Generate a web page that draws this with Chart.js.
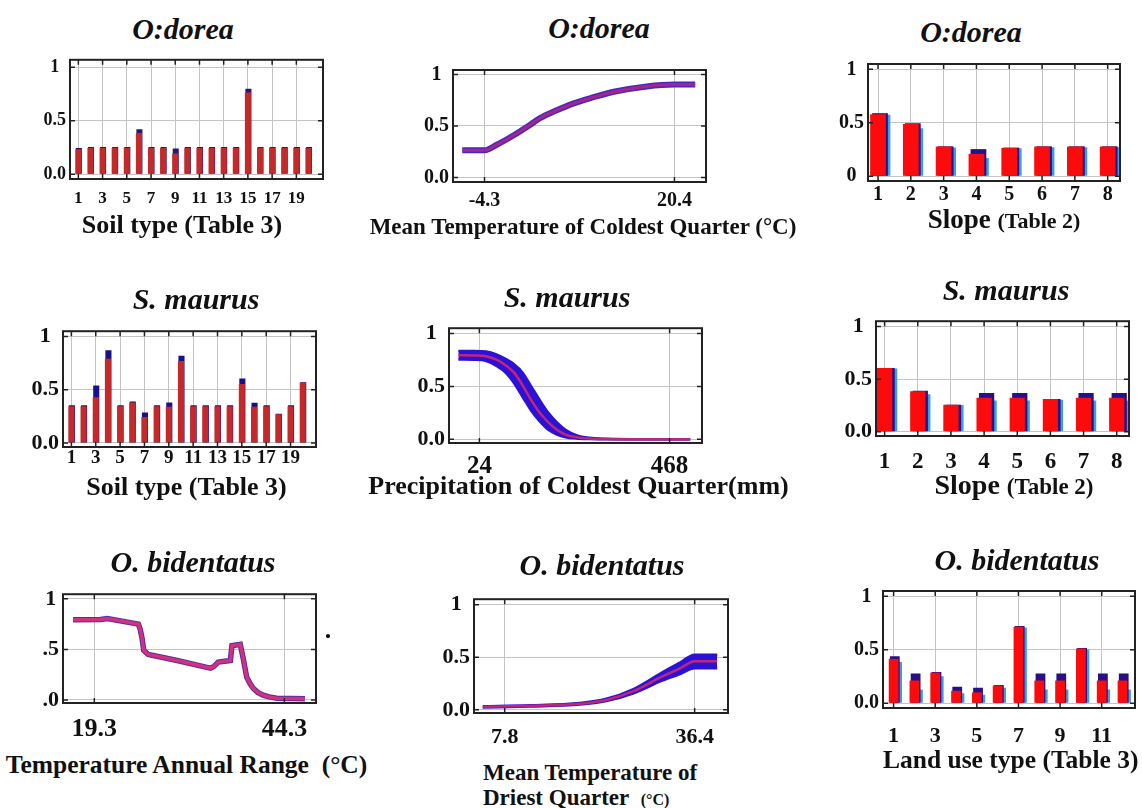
<!DOCTYPE html>
<html>
<head>
<meta charset="utf-8">
<script src="https://cdn.jsdelivr.net/npm/chart.js@4.4.0/dist/chart.umd.min.js"></script>
<style>
  body { margin: 0; background: #fff; }
  #page { position: relative; width: 1142px; height: 808px; overflow: hidden;
          font-family: 'Liberation Serif', 'Times New Roman', serif; color: #111; background: #fff; }
  .panel { position: absolute; }
  .txt { position: absolute; font-weight: bold; white-space: nowrap; line-height: 1; transform: translate(-50%, -50%); }
  .left { transform: translate(0, -50%); }
  .ttl { font-style: italic; font-size: 30px; }
</style>
</head>
<body>
<div id="page"></div>
<script>
// ---------- data ----------
const yTickVals = [0, 0.5, 1];

// soil type (categorical, 20 classes)
const soilCats = [1, 2, 3, 4, 5, 6, 7, 8, 9, 10, 11, 12, 13, 14, 15, 16, 17, 18, 19, 20];
const soilTickVals = [1, 3, 5, 7, 9, 11, 13, 15, 17, 19];
const odoreaSoilMean  = [0.235, 0.245, 0.245, 0.245, 0.245, 0.385, 0.245, 0.245, 0.195, 0.245, 0.245, 0.245, 0.245, 0.245, 0.765, 0.245, 0.245, 0.245, 0.245, 0.245];
const odoreaSoilUpper = [0.245, 0.255, 0.255, 0.255, 0.255, 0.42, 0.255, 0.255, 0.24, 0.255, 0.255, 0.255, 0.255, 0.255, 0.80, 0.255, 0.255, 0.255, 0.255, 0.255];
const maurusSoilMean  = [0.345, 0.345, 0.43, 0.79, 0.345, 0.38, 0.245, 0.345, 0.34, 0.77, 0.345, 0.345, 0.345, 0.345, 0.555, 0.34, 0.345, 0.27, 0.345, 0.565];
const maurusSoilUpper = [0.355, 0.355, 0.54, 0.87, 0.355, 0.39, 0.287, 0.355, 0.38, 0.82, 0.355, 0.355, 0.355, 0.355, 0.605, 0.377, 0.355, 0.275, 0.355, 0.57];

// slope (8 classes)
const slopeCats = [1, 2, 3, 4, 5, 6, 7, 8];
const odoreaSlopeMean  = [0.58, 0.49, 0.278, 0.21, 0.266, 0.278, 0.278, 0.278];
const odoreaSlopeUpper = [0.59, 0.495, 0.28, 0.254, 0.268, 0.28, 0.28, 0.28];
const odoreaSlopeLower = [0.575, 0.45, 0.27, 0.17, 0.262, 0.272, 0.272, 0.272];
const maurusSlopeMean  = [0.606, 0.385, 0.256, 0.324, 0.324, 0.312, 0.324, 0.324];
const maurusSlopeUpper = [0.606, 0.39, 0.256, 0.368, 0.368, 0.312, 0.368, 0.368];
const maurusSlopeLower = [0.6, 0.356, 0.254, 0.297, 0.297, 0.303, 0.297, 0.297];

// land use (12 classes)
const landCats = [1, 2, 3, 4, 5, 6, 7, 8, 9, 10, 11, 12];
const landTickVals = [1, 3, 5, 7, 9, 11];
const bidLandMean  = [0.415, 0.213, 0.287, 0.117, 0.102, 0.167, 0.716, 0.213, 0.213, 0.512, 0.213, 0.213];
const bidLandUpper = [0.44, 0.278, 0.292, 0.155, 0.146, 0.17, 0.722, 0.278, 0.278, 0.518, 0.278, 0.278];
const bidLandLower = [0.386, 0.13, 0.254, 0.094, 0.079, 0.146, 0.708, 0.13, 0.13, 0.503, 0.13, 0.13];

// mean temperature of coldest quarter (O:dorea)
const coldX = [-7.2, -4.3, -2.7, -0.5, 1.6, 2.9, 4.7, 7.3, 9.9, 12.5, 16.8, 20.4, 23.1];
const coldY = [0.264, 0.264, 0.318, 0.41, 0.51, 0.576, 0.64, 0.72, 0.78, 0.833, 0.885, 0.903, 0.903];

// precipitation of coldest quarter (S. maurus)
const precX     = [-25, 10, 40, 65, 85, 105, 125, 145, 165, 185, 205, 225, 250, 280, 320, 400, 516];
const precMean  = [0.795, 0.793, 0.785, 0.75, 0.70, 0.63, 0.51, 0.37, 0.25, 0.16, 0.09, 0.045, 0.02, 0.008, 0.003, 0.001, 0];
const precUpper = [0.835, 0.835, 0.83, 0.80, 0.76, 0.71, 0.63, 0.50, 0.37, 0.25, 0.16, 0.09, 0.04, 0.015, 0.005, 0.001, 0];
const precLower = [0.755, 0.752, 0.74, 0.69, 0.63, 0.53, 0.40, 0.27, 0.17, 0.09, 0.045, 0.02, 0.008, 0.003, 0.001, 0, 0];

// temperature annual range (O. bidentatus)
const rangeX = [16.5, 20.1, 21.0, 25.1, 25.35, 25.6, 25.8, 26.4, 30.2, 34.1, 34.6, 35.0, 35.6, 37.2, 37.4, 38.5, 38.9, 39.35, 39.8, 40.2, 40.8, 41.5, 42.3, 43.3, 47.0];
const rangeY = [0.793, 0.797, 0.805, 0.75, 0.695, 0.60, 0.49, 0.45, 0.39, 0.323, 0.315, 0.33, 0.375, 0.39, 0.537, 0.55, 0.405, 0.223, 0.16, 0.116, 0.075, 0.048, 0.03, 0.018, 0.012];

// mean temperature of driest quarter (O. bidentatus)
const dryX     = [4.5, 11.6, 19.1, 23.1, 27.1, 31.6, 34.2, 36.4, 39.8];
const dryMean  = [0.029, 0.038, 0.058, 0.094, 0.175, 0.32, 0.395, 0.462, 0.462];
const dryUpper = [0.035, 0.044, 0.066, 0.105, 0.195, 0.36, 0.45, 0.525, 0.525];
const dryLower = [0.023, 0.032, 0.05, 0.083, 0.155, 0.28, 0.34, 0.395, 0.395];

// ---------- helpers ----------
const page = document.getElementById("page");
Chart.defaults.font.family = "'Liberation Serif', 'Times New Roman', serif";
Chart.defaults.font.weight = "bold";
Chart.defaults.color = "#111";

const pts = (xs, ys) => xs.map((x, i) => ({ x: x, y: ys[i] }));

// draws the closed black box with small inward ticks
const framePlugin = {
  id: "frame",
  afterDatasetsDraw(chart) {
    const { ctx, chartArea: a, scales } = chart;
    ctx.save();
    ctx.strokeStyle = "#222";
    ctx.lineWidth = 2;
    ctx.strokeRect(a.left, a.top, a.right - a.left, a.bottom - a.top);
    ctx.lineWidth = 1.5;
    ctx.beginPath();
    scales.x.ticks.forEach(t => {
      const px = scales.x.getPixelForValue(t.value);
      ctx.moveTo(px, a.top); ctx.lineTo(px, a.top + 5);
      ctx.moveTo(px, a.bottom); ctx.lineTo(px, a.bottom - 5);
    });
    scales.y.ticks.forEach(t => {
      const py = scales.y.getPixelForValue(t.value);
      ctx.moveTo(a.left, py); ctx.lineTo(a.left + 5, py);
      ctx.moveTo(a.right, py); ctx.lineTo(a.right - 5, py);
    });
    ctx.stroke();
    ctx.restore();
  }
};

// lets a bar dataset sit a few pixels to the right (the sd bars peeking out)
const shiftPlugin = {
  id: "shift",
  beforeDatasetDraw(chart, args) {
    const dx = chart.data.datasets[args.index].shift || 0;
    chart.ctx.save();
    chart.ctx.translate(dx, 0);
  },
  afterDatasetDraw(chart) {
    chart.ctx.restore();
  }
};

function addText(html, x, y, size, cls) {
  const d = document.createElement("div");
  d.className = "txt " + (cls || "");
  d.style.left = x + "px";
  d.style.top = y + "px";
  if (size) d.style.fontSize = size + "px";
  d.innerHTML = html;
  page.appendChild(d);
}

function panel(p) {
  const padL = 60, padT = 8, padR = 10, padB = 40;
  const w = p.box[2] - p.box[0], h = p.box[3] - p.box[1];
  const div = document.createElement("div");
  div.className = "panel";
  div.style.left = (p.box[0] - padL) + "px";
  div.style.top = (p.box[1] - padT) + "px";
  const cv = document.createElement("canvas");
  cv.width = Math.round(w + padL + padR);
  cv.height = Math.round(h + padT + padB);
  div.appendChild(cv);
  page.appendChild(div);

  return new Chart(cv, {
    type: p.type,
    data: { datasets: p.datasets },
    options: {
      responsive: false,
      animation: false,
      layout: { padding: { top: padT, right: padR, left: 0, bottom: 0 } },
      plugins: { legend: { display: false }, tooltip: { enabled: false } },
      scales: {
        x: {
          type: "linear", min: p.xMin, max: p.xMax, offset: false,
          grid: { color: "#c4c4c4", drawTicks: false, offset: false },
          border: { display: false },
          afterBuildTicks: ax => { ax.ticks = p.xTicks.map(v => ({ value: v })); },
          afterFit: ax => { ax.height = padB; },
          ticks: {
            autoSkip: false, maxRotation: 0, padding: p.xPad,
            font: { size: p.xFont, weight: "bold" },
            callback: v => String(v)
          }
        },
        y: {
          min: p.yMin, max: p.yMax,
          grid: { color: "#c4c4c4", drawTicks: false },
          border: { display: false },
          afterBuildTicks: ax => { ax.ticks = yTickVals.map(v => ({ value: v })); },
          afterFit: ax => { ax.width = padL; },
          ticks: {
            padding: 4, crossAlign: "center",
            font: { size: p.yFont, weight: "bold" },
            callback: v => p.yLabels[yTickVals.indexOf(v)]
          }
        }
      }
    },
    plugins: [framePlugin, shiftPlugin]
  });
}

function bar(cats, vals, color, order, shift, pct) {
  return {
    data: pts(cats, vals), backgroundColor: color, order: order, shift: shift,
    grouped: false, categoryPercentage: 1, barPercentage: pct, borderWidth: 0
  };
}
function line(xs, ys, color, width, order, extra) {
  return Object.assign({
    data: pts(xs, ys), borderColor: color, borderWidth: width, order: order,
    pointRadius: 0, fill: false, cubicInterpolationMode: "monotone"
  }, extra || {});
}

const RED = "#fb0b0b", NAVY = "#26108a", SKY = "#3d9de2";
const SOILRED = "#c42a2a", SOILNAVY = "#2d1570";
const BAND = "#2c12d6", MID = "rgba(210,40,110,0.9)";

// ---------- row 1 : O:dorea ----------
panel({
  type: "bar", box: [70, 53, 323, 179], xMin: 0.31, xMax: 21.2, yMin: -0.044, yMax: 1.07,
  xTicks: soilTickVals, yLabels: ["0.0", "0.5", "1"], xFont: 17, yFont: 18, xPad: 9,
  datasets: [
    bar(soilCats, odoreaSoilUpper, SOILNAVY, 1, 0.5, 0.5),
    bar(soilCats, odoreaSoilMean, SOILRED, 0, 0, 0.5)
  ]
});
panel({
  type: "line", box: [452.7, 62, 706, 182], xMin: -8.4, xMax: 24.5, yMin: -0.045, yMax: 1.045,
  xTicks: [-4.3, 20.4], yLabels: ["0.0", "0.5", "1"], xFont: 20, yFont: 20, xPad: 7,
  datasets: [
    line(coldX, coldY, "#4a25c8", 6, 1),
    line(coldX, coldY, "rgba(200,40,110,0.7)", 3, 0)
  ]
});
panel({
  type: "bar", box: [868.3, 56, 1120.7, 180.7], xMin: 0.695, xMax: 8.375, yMin: -0.044, yMax: 1.05,
  xTicks: slopeCats, yLabels: ["0", "0.5", "1"], xFont: 20, yFont: 20, xPad: 2,
  datasets: [
    bar(slopeCats, odoreaSlopeLower, SKY, 2, 4.5, 0.48),
    bar(slopeCats, odoreaSlopeUpper, NAVY, 1, 2, 0.48),
    bar(slopeCats, odoreaSlopeMean, RED, 0, 0, 0.48)
  ]
});

// ---------- row 2 : S. maurus ----------
panel({
  type: "bar", box: [63.3, 321.7, 316, 446.7], xMin: 0.31, xMax: 21.09, yMin: -0.038, yMax: 1.05,
  xTicks: soilTickVals, yLabels: ["0.0", "0.5", "1"], xFont: 19, yFont: 22, xPad: 0,
  datasets: [
    bar(soilCats, maurusSoilUpper, "#1a0f8a", 1, 0.5, 0.5),
    bar(soilCats, maurusSoilMean, SOILRED, 0, 0, 0.5)
  ]
});
panel({
  type: "line", box: [449, 319.3, 701.7, 443.3], xMin: -46.9, xMax: 543.6, yMin: -0.035, yMax: 1.05,
  xTicks: [24, 468], yLabels: ["0.0", "0.5", "1"], xFont: 25, yFont: 22, xPad: 9,
  datasets: [
    line(precX, precUpper, BAND, 2.5, 2),
    line(precX, precLower, BAND, 2.5, 1, { fill: "-1", backgroundColor: BAND }),
    line(precX, precMean, MID, 2.5, 0)
  ]
});
panel({
  type: "bar", box: [875.7, 311.7, 1128.3, 435.7], xMin: 0.74, xMax: 8.37, yMin: -0.04, yMax: 1.05,
  xTicks: slopeCats, yLabels: ["0.0", "0.5", "1"], xFont: 23, yFont: 22, xPad: 12,
  datasets: [
    bar(slopeCats, maurusSlopeLower, SKY, 2, 5, 0.46),
    bar(slopeCats, maurusSlopeUpper, NAVY, 1, 2.5, 0.46),
    bar(slopeCats, maurusSlopeMean, RED, 0, 0, 0.46)
  ]
});

// ---------- row 3 : O. bidentatus ----------
panel({
  type: "line", box: [62.7, 585, 316, 702.7], xMin: 15.18, xMax: 48.46, yMin: -0.03, yMax: 1.046,
  xTicks: [19.3, 44.3], yLabels: [".0", ".5", "1"], xFont: 26, yFont: 22, xPad: 11,
  datasets: [
    line(rangeX, rangeY, "#5a2aa8", 5.5, 1, { cubicInterpolationMode: "default", tension: 0 }),
    line(rangeX, rangeY, "rgba(230,50,120,0.85)", 3.5, 0, { cubicInterpolationMode: "default", tension: 0 })
  ]
});
panel({
  type: "line", box: [474.3, 590, 728.3, 713.3], xMin: 3.18, xMax: 41.42, yMin: -0.03, yMax: 1.053,
  xTicks: [7.8, 36.4], yLabels: ["0.0", "0.5", "1"], xFont: 22, yFont: 22, xPad: 11,
  datasets: [
    line(dryX, dryUpper, BAND, 2.5, 2),
    line(dryX, dryLower, BAND, 2.5, 1, { fill: "-1", backgroundColor: BAND }),
    line(dryX, dryMean, MID, 2.5, 0)
  ]
});
panel({
  type: "bar", box: [882.7, 583.3, 1135, 708.3], xMin: 0.49, xMax: 12.6, yMin: -0.044, yMax: 1.05,
  xTicks: landTickVals, yLabels: ["0.0", "0.5", "1"], xFont: 22, yFont: 20, xPad: 15,
  datasets: [
    bar(landCats, bidLandLower, SKY, 2, 3.5, 0.47),
    bar(landCats, bidLandUpper, NAVY, 1, 1.2, 0.47),
    bar(landCats, bidLandMean, RED, 0, 0, 0.47)
  ]
});

// ---------- titles and axis names ----------
addText("O:dorea", 183, 29, null, "ttl");
addText("O:dorea", 599, 27.5, null, "ttl");
addText("O:dorea", 971, 32, null, "ttl");
addText("S. maurus", 196, 298.5, null, "ttl");
addText("S. maurus", 567, 296.5, null, "ttl");
addText("S. maurus", 1006, 290, null, "ttl");
addText("O. bidentatus", 193, 562, null, "ttl");
addText("O. bidentatus", 602, 565, null, "ttl");
addText("O. bidentatus", 1017, 560, null, "ttl");

addText("Soil type (Table 3)", 182, 225, 26);
addText("Mean Temperature of Coldest Quarter (°C)", 583, 226, 23);
addText("Slope <span style='font-size:22px'>(Table 2)</span>", 1004, 219, 27);
addText("Soil type (Table 3)", 186.5, 487, 26);
addText("Precipitation of Coldest Quarter(mm)", 578.5, 486, 26);
addText("Slope <span style='font-size:23px'>(Table 2)</span>", 1014, 485, 28);
addText("Temperature Annual Range&nbsp; (°C)", 186.5, 765, 25.5);
addText("Mean Temperature of", 483, 772, 23, "left");
addText("Driest Quarter&nbsp; <span style='font-size:16px'>(°C)</span>", 483, 797, 23, "left");
addText("Land use type (Table 3)", 883, 760, 25.5, "left");
addText(".", 328, 630, 26);
</script>
</body>
</html>
